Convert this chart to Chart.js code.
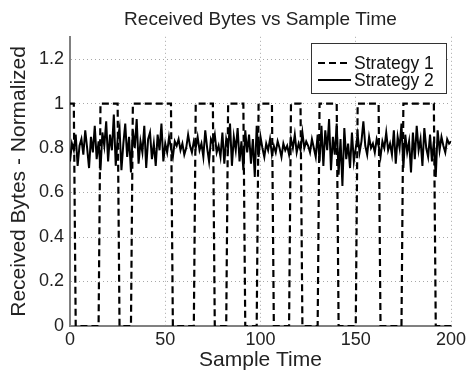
<!DOCTYPE html>
<html>
<head>
<meta charset="utf-8">
<script src="https://cdn.jsdelivr.net/npm/chart.js@4"></script>
<style>
  html, body { margin: 0; padding: 0; background: #fff; }
  #wrap { width: 472px; height: 382px; }
</style>
</head>
<body>
<div id="wrap"><canvas id="line" width="472" height="382"></canvas></div>
<script>
// strategy 1: on/off pattern (corner points of the square wave)
const s1Times = [0, 2, 3, 15, 16, 25, 26, 32, 33, 53, 54, 65, 66, 75, 76, 82, 83, 91, 92, 98, 99, 106, 107, 115, 116, 121, 122, 130, 131, 140, 141, 150, 151, 162, 163, 174, 175, 191, 192, 200];
const s1Values = [1, 1, 0, 0, 1, 1, 0, 0, 1, 1, 0, 0, 1, 1, 0, 0, 1, 1, 0, 0, 1, 1, 0, 0, 1, 1, 0, 0, 1, 1, 0, 0, 1, 1, 0, 0, 1, 1, 0, 0];

// strategy 2: one value per sample time 0..200
const s2Values = [
  0.74, 0.82, 0.79, 0.86, 0.72, 0.81, 0.84, 0.77, 0.88, 0.80,
  0.71, 0.85, 0.78, 0.90, 0.75, 0.83, 0.70, 0.87, 0.81, 0.92,
  0.74, 0.86, 0.79, 0.95, 0.72, 0.84, 0.89, 0.70, 0.82, 0.91,
  0.76, 0.85, 0.69, 0.88, 0.80, 0.93, 0.73, 0.83, 0.78, 0.90,
  0.71, 0.84, 0.87, 0.75, 0.82, 0.72, 0.86, 0.79, 0.91, 0.74,
  0.82, 0.78, 0.85, 0.80, 0.76, 0.83, 0.81, 0.84, 0.79, 0.82,
  0.77, 0.80, 0.86, 0.81, 0.78, 0.83, 0.80, 0.85, 0.79, 0.82,
  0.76, 0.88, 0.80, 0.74, 0.84, 0.82, 0.86, 0.78, 0.81, 0.76,
  0.87, 0.73, 0.84, 0.80, 0.91, 0.72, 0.85, 0.79, 0.89, 0.74,
  0.83, 0.70, 0.88, 0.78, 0.86, 0.73, 0.84, 0.67, 0.90, 0.76,
  0.85, 0.80, 0.76, 0.82, 0.79, 0.84, 0.77, 0.81, 0.78, 0.83,
  0.80, 0.76, 0.82, 0.79, 0.81, 0.77, 0.84, 0.80, 0.86, 0.78,
  0.82, 0.79, 0.87, 0.80, 0.83, 0.81, 0.78, 0.84, 0.80, 0.76,
  0.86, 0.74, 0.90, 0.72, 0.88, 0.79, 0.93, 0.70, 0.85, 0.77,
  0.91, 0.68, 0.84, 0.63, 0.89, 0.75, 0.82, 0.71, 0.87, 0.74,
  0.80, 0.86, 0.78, 0.83, 0.92, 0.81, 0.77, 0.85, 0.80, 0.82,
  0.78, 0.84, 0.81, 0.76, 0.83, 0.80, 0.87, 0.79, 0.82, 0.77,
  0.88, 0.73, 0.85, 0.80, 0.91, 0.71, 0.86, 0.78, 0.83, 0.69,
  0.87, 0.75, 0.90, 0.79, 0.84, 0.72, 0.89, 0.80, 0.76, 0.86,
  0.74, 0.83, 0.67, 0.88, 0.79, 0.85, 0.81, 0.78, 0.84, 0.82,
  0.83
];

const seriesNames = ['Strategy 1', 'Strategy 2'];
const xTicks = [0, 50, 100, 150, 200];
const yTicks = [0, 0.2, 0.4, 0.6, 0.8, 1, 1.2];

const FONT = 'Arial, "Liberation Sans", Helvetica, sans-serif';

// legend box like matlab (top right, framed)
const boxLegend = {
  id: 'boxLegend',
  afterDatasetsDraw(chart) {
    const ctx = chart.ctx;
    const a = chart.chartArea;
    const x = a.right - 140, y = 43, w = 135, h = 50;
    ctx.save();
    ctx.fillStyle = '#fff';
    ctx.fillRect(x, y, w, h);
    ctx.strokeStyle = '#333';
    ctx.lineWidth = 1;
    ctx.strokeRect(x + 0.5, y + 0.5, w, h);
    chart.data.datasets.forEach((ds, i) => {
      const ly = y + 20 + i * 17;
      ctx.beginPath();
      ctx.setLineDash(ds.borderDash || []);
      ctx.lineWidth = 1.8;
      ctx.strokeStyle = ds.borderColor;
      ctx.moveTo(x + 7, ly);
      ctx.lineTo(x + 40, ly);
      ctx.stroke();
      ctx.setLineDash([]);
      ctx.fillStyle = '#111';
      ctx.font = '17.5px ' + FONT;
      ctx.textBaseline = 'middle';
      ctx.fillText(ds.label, x + 43, ly + 1);
    });
    ctx.restore();
  }
};

function makeChart() {
  let eLine = document.querySelector('#line');
  new Chart(eLine, {
    type: 'line',
    data: {
      datasets: [
        {
          label: seriesNames[0],
          data: s1Times.map((t, i) => ({ x: t, y: s1Values[i] })),
          borderColor: '#000',
          borderWidth: 2.2,
          borderDash: [7, 4],
          pointRadius: 0,
          tension: 0,
          fill: false
        },
        {
          label: seriesNames[1],
          data: s2Values.map((v, i) => ({ x: i, y: v })),
          borderColor: '#000',
          borderWidth: 2,
          pointRadius: 0,
          tension: 0,
          fill: false
        }
      ]
    },
    options: {
      responsive: false,
      animation: false,
      layout: { padding: { left: 0, right: 21, top: 0, bottom: 0 } },
      plugins: {
        legend: { display: false },
        tooltip: { enabled: false },
        title: {
          display: true,
          fullSize: false,
          text: 'Received Bytes vs Sample Time',
          color: '#222',
          font: { family: FONT, size: 19, weight: 'normal' },
          padding: { top: 8, bottom: 6 }
        }
      },
      scales: {
        x: {
          type: 'linear',
          min: 0,
          max: 200,
          afterBuildTicks: s => { s.ticks = xTicks.map(v => ({ value: v })); },
          afterFit: s => { s.height = 56; },
          ticks: { color: '#222', font: { family: FONT, size: 18 }, padding: 3, maxRotation: 0 },
          grid: { color: '#a8a8a8', drawTicks: false, lineWidth: 1 },
          border: { color: '#808080', width: 2, dash: [1, 3] },
          title: {
            display: true,
            text: 'Sample Time',
            color: '#222',
            font: { family: FONT, size: 21 },
            padding: { top: 0, bottom: 9 }
          }
        },
        y: {
          min: 0,
          max: 1.3,
          afterBuildTicks: s => { s.ticks = yTicks.map(v => ({ value: v })); },
          afterFit: s => { s.width = 70; },
          ticks: {
            color: '#222',
            font: { family: FONT, size: 18 },
            padding: 6,
            callback: v => String(+v.toFixed(1))
          },
          grid: { color: '#a8a8a8', drawTicks: false, lineWidth: 1 },
          border: { color: '#808080', width: 2, dash: [1, 3] },
          title: {
            display: true,
            text: 'Received Bytes - Normalized',
            color: '#222',
            font: { family: FONT, size: 21 },
            padding: { top: 7, bottom: 0 }
          }
        }
      }
    },
    plugins: [boxLegend]
  });
}
makeChart();
</script>
</body>
</html>
